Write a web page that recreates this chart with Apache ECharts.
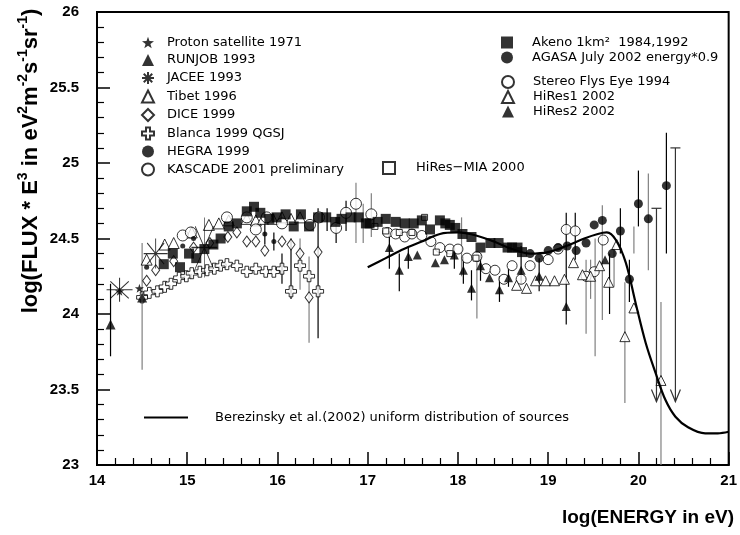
<!DOCTYPE html>
<html>
<head>
<meta charset="utf-8">
<script src="https://cdn.jsdelivr.net/npm/echarts@6/dist/echarts.min.js"></script>
<style>
html, body { margin: 0; padding: 0; background: #fff; }
#chart { width: 740px; height: 535px; }
</style>
</head>
<body>
<div id="chart"></div>
<script>
// 数据 (log E, log flux*E^3)
var proton = [[14.25, 24.15], [14.47, 24.17]];
var runjob = [[14.15, 23.93], [14.5, 24.11]];
var jacee = [[14.25, 24.16], [14.65, 24.40], [15.19, 24.44]];
var tibet = [[14.55, 24.36], [14.75, 24.46], [14.85, 24.47], [15.05, 24.54], [15.24, 24.59], [15.35, 24.60],
    [15.46, 24.62], [15.66, 24.63], [15.76, 24.62], [15.84, 24.63], [15.95, 24.63], [16.05, 24.64], [16.15, 24.63], [16.25, 24.64]];
var dice = [[14.55, 24.22], [14.65, 24.29], [14.85, 24.35], [15.07, 24.44], [15.25, 24.47], [15.45, 24.51],
    [15.55, 24.54], [15.66, 24.48], [15.76, 24.48], [15.86, 24.42], [16.05, 24.48], [16.15, 24.46], [16.25, 24.40],
    [16.35, 24.11], [16.45, 24.41]];
var blanca = [[14.5, 24.11], [14.58, 24.14], [14.67, 24.15], [14.75, 24.18], [14.82, 24.20], [14.91, 24.24],
    [14.99, 24.25], [15.05, 24.27], [15.14, 24.28], [15.22, 24.29], [15.30, 24.30], [15.37, 24.32], [15.44, 24.33],
    [15.55, 24.32], [15.66, 24.28], [15.76, 24.30], [15.87, 24.28], [15.96, 24.28], [16.05, 24.30], [16.15, 24.15],
    [16.25, 24.32], [16.35, 24.25], [16.45, 24.15]];
var hegra = [[14.55, 24.31], [14.95, 24.45], [15.07, 24.50], [15.86, 24.53], [15.96, 24.48]];
var kascade = [[14.95, 24.52], [15.04, 24.54], [15.44, 24.64], [15.66, 24.64], [15.76, 24.56], [15.88, 24.64],
    [16.05, 24.60], [16.36, 24.59], [16.46, 24.64], [16.65, 24.57], [16.76, 24.67], [16.87, 24.73], [17.04, 24.66]];
var akeno = [[14.74, 24.33], [14.84, 24.40], [14.92, 24.31], [15.02, 24.40], [15.10, 24.37], [15.19, 24.43],
    [15.29, 24.46], [15.37, 24.50], [15.46, 24.58], [15.55, 24.60], [15.66, 24.68], [15.74, 24.71], [15.81, 24.67],
    [15.91, 24.63], [15.99, 24.64], [16.09, 24.66], [16.18, 24.58], [16.26, 24.66], [16.35, 24.58], [16.45, 24.64],
    [16.54, 24.64], [16.64, 24.61], [16.71, 24.63], [16.81, 24.64], [16.90, 24.64], [16.98, 24.60], [17.02, 24.60],
    [17.11, 24.61], [17.20, 24.63], [17.31, 24.61], [17.41, 24.60], [17.51, 24.60], [17.60, 24.62], [17.69, 24.56],
    [17.80, 24.62], [17.86, 24.60], [17.91, 24.59], [17.97, 24.57], [18.05, 24.53], [18.15, 24.51], [18.25, 24.44],
    [18.36, 24.47], [18.45, 24.47], [18.55, 24.44], [18.60, 24.44], [18.66, 24.44], [18.71, 24.41]];
var agasa = [[18.80, 24.40], [18.90, 24.37], [19.00, 24.42], [19.11, 24.44], [19.21, 24.45], [19.31, 24.42],
    [19.42, 24.47], [19.51, 24.59], [19.60, 24.62], [19.71, 24.40], [19.80, 24.55], [19.90, 24.23], [20.00, 24.73],
    [20.11, 24.63], [20.31, 24.85]];
var stereo = [[17.22, 24.54], [17.31, 24.53], [17.41, 24.51], [17.49, 24.53], [17.60, 24.52], [17.70, 24.48],
    [17.80, 24.44], [17.91, 24.43], [18.00, 24.43], [18.10, 24.37], [18.21, 24.38], [18.31, 24.30], [18.41, 24.29],
    [18.51, 24.23], [18.60, 24.32], [18.70, 24.23], [18.80, 24.32], [19.00, 24.36], [19.11, 24.43], [19.20, 24.56],
    [19.30, 24.55], [19.42, 24.25], [19.51, 24.28], [19.61, 24.49]];
var hires1 = [[18.65, 24.19], [18.76, 24.17], [18.86, 24.22], [18.97, 24.22], [19.07, 24.22], [19.18, 24.23],
    [19.28, 24.34], [19.38, 24.26], [19.47, 24.25], [19.57, 24.32], [19.67, 24.21], [19.76, 24.46], [19.85, 23.85],
    [19.95, 24.04], [20.25, 23.56]];
var hires2 = [[17.24, 24.44], [17.35, 24.29], [17.45, 24.38], [17.55, 24.39], [17.75, 24.34], [17.85, 24.36],
    [17.96, 24.39], [18.06, 24.29], [18.15, 24.17], [18.25, 24.32], [18.35, 24.24], [18.46, 24.16], [18.56, 24.24],
    [18.70, 24.29], [18.90, 24.25], [19.20, 24.05], [19.63, 24.36]];
var hiresMia = [[17.08, 24.58], [17.20, 24.55], [17.35, 24.54], [17.49, 24.54], [17.63, 24.64], [17.76, 24.41],
    [17.91, 24.40], [18.20, 24.37]];
var berezinsky = [[17.0, 24.31], [17.2, 24.37], [17.4, 24.43], [17.6, 24.48], [17.8, 24.53], [18.0, 24.54],
    [18.2, 24.52], [18.4, 24.48], [18.6, 24.43], [18.8, 24.40], [19.0, 24.41], [19.2, 24.45], [19.4, 24.50],
    [19.55, 24.53], [19.65, 24.54], [19.75, 24.49], [19.86, 24.34], [19.97, 24.07], [20.08, 23.81], [20.19, 23.61],
    [20.30, 23.43], [20.41, 23.32], [20.55, 23.25], [20.74, 23.21], [20.88, 23.21], [21.0, 23.22]];
// 误差棒 [x, 下, 上]
var errBlack = [[14.15, 23.72, 24.20], [16.45, 23.84, 24.70], [16.15, 24.10, 24.50], [16.05, 24.20, 24.40],
    [16.76, 24.55, 24.75], [16.55, 24.55, 24.70], [16.65, 24.47, 24.64], [18.15, 24.09, 24.29], [19.20, 23.93, 24.67],
    [19.30, 24.36, 24.67], [19.68, 24.00, 24.40], [20.00, 24.58, 24.95], [20.31, 24.40, 25.20], [19.80, 24.40, 24.70],
    [17.24, 24.30, 24.55], [17.35, 24.15, 24.40], [17.45, 24.30, 24.45], [18.25, 24.22, 24.40], [18.46, 24.08, 24.25],
    [18.56, 24.18, 24.30], [18.70, 24.20, 24.45], [18.90, 24.15, 24.37], [17.96, 24.30, 24.45], [18.06, 24.20, 24.38],
    [19.90, 24.08, 24.36], [15.86, 24.46, 24.60], [15.96, 24.42, 24.54]];
var errGrey = [[14.5, 23.63, 24.47], [16.35, 23.81, 24.38], [16.25, 24.16, 24.50], [16.87, 24.47, 24.87],
    [16.95, 24.47, 24.73], [17.04, 24.51, 24.80], [18.04, 24.25, 24.64], [18.21, 23.97, 24.40], [19.42, 23.87, 24.36],
    [19.52, 23.72, 24.50], [19.60, 23.96, 24.72], [19.85, 23.41, 24.21], [20.25, 23.00, 24.08], [20.11, 24.29, 24.93],
    [19.95, 24.40, 24.58], [19.73, 24.18, 24.45], [19.47, 24.10, 24.36]];
var upperLimits = [[20.20, 23.42, 24.70], [20.41, 23.42, 25.10]];

var xTicks = { min: 14, max: 21, step: 1 };
var yTicks = { min: 23, max: 26, step: 0.5 };

var starPath = 'path://M0,-10L2.35,-3.24L9.51,-3.09L3.8,1.24L5.88,8.09L0,4L-5.88,8.09L-3.8,1.24L-9.51,-3.09L-2.35,-3.24Z';
var asteriskPath = 'path://M0,-10L0,10M-10,0L10,0M-7.07,-7.07L7.07,7.07M-7.07,7.07L7.07,-7.07';
var crossPath = 'path://M-3,-9L3,-9L3,-3L9,-3L9,3L3,3L3,9L-3,9L-3,3L-9,3L-9,-3L-3,-3Z';

var openStyle = { color: '#fff', borderColor: '#000', borderWidth: 1 };
var fillStyle = { color: '#000', borderColor: '#000', borderWidth: 0 };

function scatter(name, data, symbol, size, style) {
    return {
        name: name, type: 'scatter', data: data, symbol: symbol, symbolSize: size,
        itemStyle: style, z: 3, emphasis: { disabled: true }
    };
}

function errSeries(data, color) {
    return {
        type: 'custom', data: data, z: 2, silent: true,
        encode: { x: 0, y: [1, 2] },
        renderItem: function (params, api) {
            var a = api.coord([api.value(0), api.value(1)]);
            var b = api.coord([api.value(0), api.value(2)]);
            return {
                type: 'line',
                shape: { x1: a[0], y1: a[1], x2: b[0], y2: b[1] },
                style: { stroke: color, lineWidth: 1.2 }
            };
        }
    };
}

var jaceeSizes = [[26, 24], [24, 30], [26, 60]];

var legendText = { fontFamily: 'DejaVu Sans', fontSize: 13, color: '#000', lineHeight: 12 };
function legendBlock(names, left, top, gap, pad) {
    return {
        data: names, left: left, top: top, orient: 'vertical', itemGap: gap,
        itemWidth: 12, itemHeight: 12, padding: 0, selectedMode: false,
        textStyle: Object.assign({ padding: [0, 0, 0, pad] }, legendText)
    };
}

var labelFont = { color: '#000', fontFamily: 'Liberation Sans, Arial, sans-serif', fontWeight: 'bold', fontSize: 15 };

var chart = echarts.init(document.getElementById('chart'));
chart.setOption({
    animation: false,
    grid: { left: 97, right: 6, top: 12, bottom: 70, show: true, borderColor: '#000', borderWidth: 2 },
    xAxis: {
        type: 'value', min: xTicks.min, max: xTicks.max, interval: xTicks.step,
        axisLine: { lineStyle: { color: '#000', width: 2 } },
        axisTick: { inside: true, length: 13, lineStyle: { color: '#000', width: 1.5 } },
        minorTick: { show: true, splitNumber: 5, length: 7, lineStyle: { color: '#000', width: 1.2 } },
        splitLine: { show: false },
        axisLabel: Object.assign({ margin: 8 }, labelFont)
    },
    yAxis: {
        type: 'value', min: yTicks.min, max: yTicks.max, interval: yTicks.step,
        axisLine: { lineStyle: { color: '#000', width: 2 } },
        axisTick: { inside: true, length: 13, lineStyle: { color: '#000', width: 1.5 } },
        minorTick: { show: true, splitNumber: 5, length: 7, lineStyle: { color: '#000', width: 1.2 } },
        splitLine: { show: false },
        axisLabel: Object.assign({ margin: 18 }, labelFont)
    },
    legend: [
        legendBlock(['Proton satellite 1971', 'RUNJOB 1993', 'JACEE 1993', 'Tibet 1996', 'DICE 1999',
            'Blanca 1999 QGSJ', 'HEGRA 1999', 'KASCADE 2001 preliminary'], 141, 36, 4.5, 8),
        legendBlock(['Akeno 1km\u00b2  1984,1992', 'AGASA July 2002 energy*0.9'], 501, 36, 2, 14),
        legendBlock(['Stereo Flys Eye 1994', 'HiRes1 2002', 'HiRes2 2002'], 501, 75, 1, 14),
        legendBlock(['HiRes\u2212MIA 2000'], 382, 161, 2, 16),
        {
            data: [{ name: 'Berezinsky et al.(2002) uniform distribution of sources', icon: 'rect' }],
            left: 144, top: 411, itemWidth: 44, itemHeight: 2, padding: 0, selectedMode: false,
            textStyle: Object.assign({ padding: [0, 0, 0, 22] }, legendText)
        }
    ],
    graphic: [
        {
            type: 'text', x: 29, y: 161, rotation: Math.PI / 2,
            style: {
                text: '{b|log(FLUX * E}{s|3}{b| in eV}{s|2}{b|m}{s|-2}{b|s}{s|-1}{b|sr}{s|-1}{b|)}',
                align: 'center', verticalAlign: 'middle', fill: '#000',
                rich: {
                    b: { fontFamily: 'Liberation Sans', fontWeight: 'bold', fontSize: 22, lineHeight: 25, verticalAlign: 'bottom' },
                    s: { fontFamily: 'Liberation Sans', fontWeight: 'bold', fontSize: 14, lineHeight: 25, verticalAlign: 'top' }
                }
            }
        },
        {
            type: 'text', x: 734, y: 518,
            style: {
                text: 'log(ENERGY in eV)', align: 'right', verticalAlign: 'middle', fill: '#000',
                font: 'bold 19px "Liberation Sans"'
            }
        }
    ],
    series: [
        errSeries(errGrey, '#808080'),
        errSeries(errBlack, '#000'),
        {
            type: 'custom', data: upperLimits, z: 2, silent: true,
            encode: { x: 0, y: [1, 2] },
            renderItem: function (params, api) {
                var a = api.coord([api.value(0), api.value(1)]);
                var b = api.coord([api.value(0), api.value(2)]);
                return {
                    type: 'group',
                    children: [
                        { type: 'line', shape: { x1: a[0], y1: a[1], x2: b[0], y2: b[1] }, style: { stroke: '#333', lineWidth: 1.2 } },
                        { type: 'line', shape: { x1: b[0] - 5, y1: b[1], x2: b[0] + 5, y2: b[1] }, style: { stroke: '#333', lineWidth: 1.2 } },
                        { type: 'polyline', shape: { points: [[a[0] - 5, a[1] - 12], [a[0], a[1]], [a[0] + 5, a[1] - 12]] }, style: { stroke: '#333', fill: null, lineWidth: 1.2 } }
                    ]
                };
            }
        },
        {
            name: 'Berezinsky et al.(2002) uniform distribution of sources', type: 'line', data: berezinsky,
            smooth: 0.35, symbol: 'none', color: '#000', z: 4,
            lineStyle: { color: '#000', width: 2.2 }, itemStyle: { color: '#000' }
        },
        scatter('Blanca 1999 QGSJ', blanca, crossPath, 11, openStyle),
        scatter('DICE 1999', dice, 'diamond', [8, 11], openStyle),
        scatter('Tibet 1996', tibet, 'triangle', 11, openStyle),
        scatter('KASCADE 2001 preliminary', kascade, 'circle', 11, openStyle),
        scatter('Stereo Flys Eye 1994', stereo, 'circle', 10, openStyle),
        scatter('HiRes1 2002', hires1, 'triangle', 10, openStyle),
        scatter('HiRes\u2212MIA 2000', hiresMia, 'rect', 6, openStyle),
        scatter('Akeno 1km\u00b2  1984,1992', akeno, 'rect', 10, fillStyle),
        scatter('AGASA July 2002 energy*0.9', agasa, 'circle', 9, fillStyle),
        scatter('HiRes2 2002', hires2, 'triangle', 9, fillStyle),
        scatter('HEGRA 1999', hegra, 'circle', 5, fillStyle),
        scatter('RUNJOB 1993', runjob, 'triangle', 10, fillStyle),
        scatter('Proton satellite 1971', proton, starPath, 9, fillStyle),
        {
            name: 'JACEE 1993', type: 'scatter', data: jacee, symbol: asteriskPath, z: 3,
            symbolSize: function (val, params) { return jaceeSizes[params.dataIndex]; },
            itemStyle: { color: '#000', borderColor: '#000', borderWidth: 1 },
            emphasis: { disabled: true }
        }
    ]
});
</script>
</body>
</html>
